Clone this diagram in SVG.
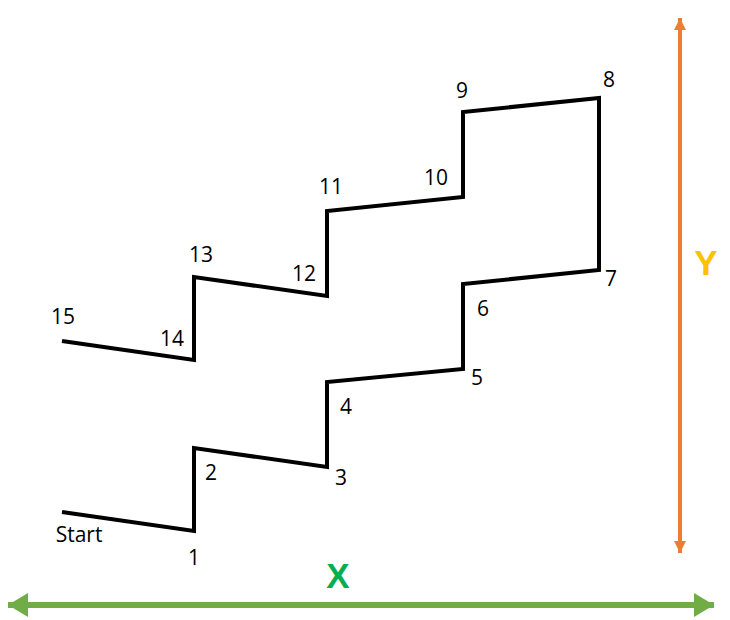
<svg xmlns="http://www.w3.org/2000/svg" width="730" height="620" viewBox="0 0 730 620">
<style>
.lbl{font-family:"Open Sans","Liberation Sans",sans-serif;font-size:21px;fill:#000;text-anchor:middle}
.axis{font-family:"Liberation Sans",Arial,sans-serif;font-size:35px;font-weight:bold;text-anchor:middle}
</style>
<defs>
<marker id="og" viewBox="0 0 12 12" refX="12" refY="6" markerWidth="12" markerHeight="12" markerUnits="userSpaceOnUse" orient="auto-start-reverse"><path d="M0,0L12,6L0,12Z" fill="#ED7D31"/></marker>
<marker id="gr" viewBox="0 0 20 24" refX="20" refY="12" markerWidth="20" markerHeight="24" markerUnits="userSpaceOnUse" orient="auto-start-reverse"><path d="M0,0L20,12L0,24Z" fill="#70AD47"/></marker>
</defs>
<rect width="730" height="620" fill="#fff"/>
<g id="connectors">
<polyline id="path" fill="none" stroke="#000" stroke-width="4" stroke-linejoin="miter" points="62,512 194,531 194,448 327,467 327,382 463,369 463,284 599,270 599,98 463,112 463,197 327,211 327,296 194,277 194,360 62,341"/>
<line id="y-axis" x1="680" y1="18" x2="680" y2="553" stroke="#ED7D31" stroke-width="4" marker-start="url(#og)" marker-end="url(#og)"/>
<line id="x-axis" x1="8" y1="605" x2="714" y2="605" stroke="#70AD47" stroke-width="6" marker-start="url(#gr)" marker-end="url(#gr)"/>
</g>
<g id="labels">
<text class="lbl" x="79" y="542">Start</text>
<text class="lbl" x="194" y="565">1</text>
<text class="lbl" x="211" y="480">2</text>
<text class="lbl" x="341" y="485">3</text>
<text class="lbl" x="346" y="414">4</text>
<text class="lbl" x="477" y="385">5</text>
<text class="lbl" x="483" y="316">6</text>
<text class="lbl" x="611" y="286">7</text>
<text class="lbl" x="609" y="87">8</text>
<text class="lbl" x="462" y="98">9</text>
<text class="lbl" x="436" y="185">10</text>
<text class="lbl" x="331" y="194">11</text>
<text class="lbl" x="304" y="281">12</text>
<text class="lbl" x="201" y="262">13</text>
<text class="lbl" x="172" y="346">14</text>
<text class="lbl" x="63" y="324">15</text>
</g>
<g id="axis-labels">
<text class="axis" x="338" y="588" fill="#00B050">X</text>
<text class="axis" x="706" y="275" fill="#FFC000">Y</text>
</g>
</svg>
